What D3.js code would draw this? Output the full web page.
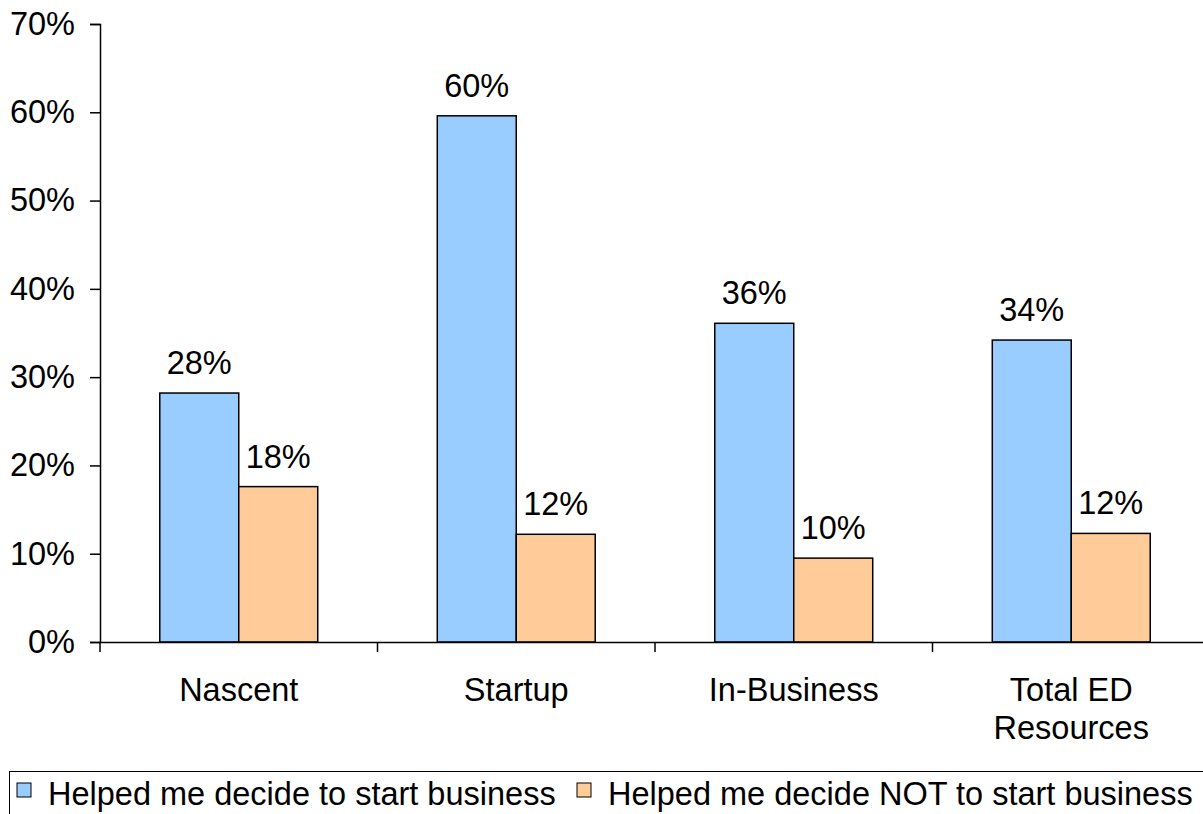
<!DOCTYPE html>
<html>
<head>
<meta charset="utf-8">
<script src="https://cdn.jsdelivr.net/npm/d3@7"></script>
<style>
  html, body { margin: 0; padding: 0; background: #fff; }
  svg { display: block; font-family: "Liberation Sans", Arial, sans-serif; }
</style>
</head>
<body>
<svg id="chart" width="1203" height="814"></svg>
<script>
// Share of respondents by stage of business development
const categories = [["Nascent"], ["Startup"], ["In-Business"], ["Total ED", "Resources"]];
const seriesNames = ["Helped me decide to start business", "Helped me decide NOT to start business"];
const helpedStart = [0.282, 0.596, 0.361, 0.342];
const helpedNotStart = [0.176, 0.122, 0.095, 0.123];
const yTicks = [0, 0.1, 0.2, 0.3, 0.4, 0.5, 0.6, 0.7];
const colors = ["#99CCFF", "#FFCC99"];

const svg = d3.select("#chart");
const fontSize = 32.5;
const catKeys = categories.map(c => c.join(" "));
const seriesData = [helpedStart, helpedNotStart];

const x0 = d3.scaleBand().domain(catKeys).range([100, 1210]).padding(0);
const x1 = d3.scaleBand().domain([0, 1]).range([0, x0.bandwidth()]).paddingInner(0).paddingOuter(0.757);
const y = d3.scaleLinear().domain([0, 0.7]).range([642, 24]);

// Y axis
const yAxis = d3.axisLeft(y).tickValues(yTicks).tickFormat(d3.format(".0%")).tickSize(10).tickPadding(15);
const gy = svg.append("g").attr("transform", "translate(100,0)").call(yAxis);
gy.select(".domain").attr("stroke", "#000").attr("stroke-width", 1.5);
gy.selectAll(".tick line").attr("stroke", "#000").attr("stroke-width", 1.5);
gy.selectAll(".tick text").attr("font-size", fontSize).attr("fill", "#000")
  .attr("font-family", "Liberation Sans, Arial, sans-serif");

// Bars
const groups = svg.append("g").selectAll("g")
  .data(catKeys)
  .join("g")
  .attr("transform", d => `translate(${x0(d)},0)`);

groups.each(function (cat, ci) {
  const g = d3.select(this);
  const vals = seriesData.map((s, si) => ({ si, v: s[ci] }));
  g.selectAll("rect")
    .data(vals)
    .join("rect")
    .attr("x", d => x1(d.si))
    .attr("y", d => y(d.v))
    .attr("width", x1.bandwidth())
    .attr("height", d => y(0) - y(d.v))
    .attr("fill", d => colors[d.si])
    .attr("stroke", "#000")
    .attr("stroke-width", 1.5);
  g.selectAll("text.val")
    .data(vals)
    .join("text")
    .attr("class", "val")
    .attr("x", d => x1(d.si) + x1.bandwidth() / 2)
    .attr("y", d => y(d.v) - 19)
    .attr("text-anchor", "middle")
    .attr("font-size", fontSize)
    .attr("fill", "#000")
    .text(d => d3.format(".0%")(d.v));
});

// X axis baseline and category separators
const xAxis = d3.axisBottom(x0).tickSize(0).tickFormat("");
const gx = svg.append("g").attr("transform", `translate(0,${y(0)})`).call(xAxis);
gx.select(".domain").attr("stroke", "#000").attr("stroke-width", 1.5);
const bounds = catKeys.map(c => x0(c)).concat([x0.range()[1]]);
svg.append("g").selectAll("line")
  .data(bounds)
  .join("line")
  .attr("x1", d => d).attr("x2", d => d)
  .attr("y1", y(0)).attr("y2", y(0) + 10)
  .attr("stroke", "#000").attr("stroke-width", 1.5);

// Category labels
svg.append("g").selectAll("text")
  .data(categories)
  .join("text")
  .attr("x", (d, i) => x0(catKeys[i]) + x0.bandwidth() / 2)
  .attr("y", 701)
  .attr("text-anchor", "middle")
  .attr("font-size", fontSize)
  .attr("fill", "#000")
  .each(function (lines) {
    const t = d3.select(this);
    lines.forEach((line, li) => {
      t.append("tspan")
        .attr("x", t.attr("x"))
        .attr("dy", li === 0 ? 0 : 38)
        .text(line);
    });
  });

// Legend
const legend = svg.append("g");
legend.append("rect")
  .attr("x", 9.5).attr("y", 771.5).attr("width", 1220).attr("height", 80)
  .attr("fill", "#fff").attr("stroke", "#000").attr("stroke-width", 1);
const legendX = [17, 577];
seriesNames.forEach((name, i) => {
  legend.append("rect")
    .attr("x", legendX[i]).attr("y", 783).attr("width", 14).attr("height", 14)
    .attr("fill", colors[i]).attr("stroke", "#000").attr("stroke-width", 1);
  legend.append("text")
    .attr("x", legendX[i] + 31).attr("y", 805)
    .attr("font-size", fontSize)
    .attr("fill", "#000")
    .text(name);
});
</script>
</body>
</html>
